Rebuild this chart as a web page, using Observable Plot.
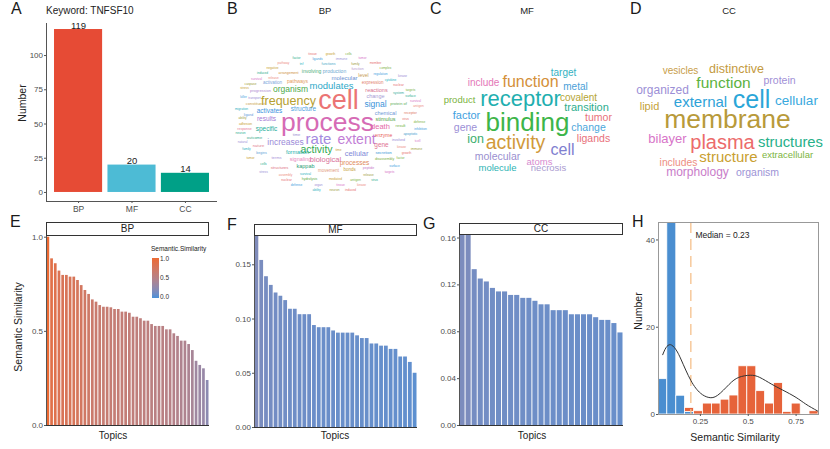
<!DOCTYPE html>
<html><head><meta charset="utf-8">
<script src="https://cdn.jsdelivr.net/npm/d3@7"></script>
<script src="https://cdn.jsdelivr.net/npm/@observablehq/plot@0.6"></script>
<style>
body{margin:0;background:#fff;}
#root{position:relative;width:830px;height:449px;overflow:hidden;font-family:"Liberation Sans",Arial,sans-serif;color:#222;background:#fff;}
.lbl{position:absolute;white-space:nowrap;line-height:1;}
.strip{position:absolute;box-sizing:border-box;border:1px solid #333;background:#fff;font-size:10px;display:flex;align-items:center;justify-content:center;line-height:1;}
</style></head><body><div id="root"></div>
<script>
// ---------------- DATA ----------------
const goCategories = ["BP", "MF", "CC"];
const goCounts = [119, 20, 14];
const goColors = ["#E64B35", "#4DBBD5", "#00A087"];
const aTicks = [0, 25, 50, 75, 100];

const bpSimilarity = [1.0, 0.885, 0.859, 0.82, 0.797, 0.797, 0.788, 0.788, 0.77, 0.743,
  0.717, 0.696, 0.667, 0.655, 0.637, 0.628, 0.628, 0.625, 0.616, 0.616,
  0.602, 0.602, 0.596, 0.575, 0.575, 0.567, 0.554, 0.554, 0.536, 0.526,
  0.526, 0.526, 0.508, 0.508, 0.487, 0.473, 0.448, 0.448, 0.43, 0.398,
  0.341, 0.319, 0.301, 0.239];
const mfSimilarity = [0.177, 0.154, 0.139, 0.131, 0.124, 0.121, 0.117, 0.109, 0.109, 0.104,
  0.104, 0.104, 0.094, 0.092, 0.092, 0.092, 0.089, 0.087, 0.087, 0.087,
  0.087, 0.0845, 0.082, 0.082, 0.077, 0.077, 0.075, 0.075, 0.072, 0.072,
  0.065, 0.065, 0.060, 0.050];
const ccSimilarity = [0.163, 0.163, 0.133, 0.125, 0.1225, 0.117, 0.114, 0.114, 0.111, 0.111,
  0.1085, 0.1085, 0.106, 0.103, 0.103, 0.098, 0.098, 0.098, 0.0945, 0.0945,
  0.0945, 0.0945, 0.092, 0.0897, 0.0897, 0.087, 0.079];
const eTicks = [0, 0.5, 1.0];
const fTicks = [0, 0.05, 0.10, 0.15];
const gTicks = [0, 0.04, 0.08, 0.12, 0.16];

// histogram (panel H)
const histEdges = [0.031, 0.077, 0.124, 0.170, 0.217, 0.263, 0.310, 0.356, 0.402, 0.449,
  0.495, 0.542, 0.588, 0.634, 0.681, 0.727, 0.774, 0.820, 0.867];
const histLow  = [8.1, 46, 4.3, 0.6, 0, 0, 0, 0, 0, 0, 0, 0, 0, 0, 0, 0, 0, 0];
const histHigh = [0, 0, 0, 0.9, 0.75, 2.5, 2.5, 3.4, 4.35, 11.05, 11.05, 5.35, 2.5, 7.2, 0.6, 2.5, 0, 0.75];
const densityX = [0.053, 0.07, 0.093, 0.12, 0.15, 0.20, 0.25, 0.294, 0.34, 0.40, 0.45, 0.51, 0.56, 0.62, 0.68, 0.75, 0.80, 0.862];
const densityY = [13.7, 15.3, 16.0, 15.0, 12.5, 7.8, 4.9, 3.9, 4.4, 6.9, 8.5, 9.0, 8.5, 7.0, 5.6, 3.9, 2.4, 0.8];
const medianPos = 0.20;
const medianText = "Median = 0.23";
const hXTicks = [0.25, 0.5, 0.75];
const hYTicks = [0, 20, 40];

// word clouds: [word, x, y, size, color]
const bpWords = [
  ["process", 327, 122, 26.5, "#D66BB5"], ["cell", 338, 100, 27, "#EB7474"],
  ["rate", 318, 139, 15, "#A58BE0"], ["extent", 356, 139, 14, "#C27ED6"],
  ["frequency", 288, 100, 12.5, "#B5A030"], ["modulates", 331, 85, 9.5, "#2EA8C8"],
  ["organism", 290, 89, 8.5, "#4DAA4D"], ["signal", 375, 104, 8.5, "#3A93DA"],
  ["activity", 316, 149, 10.5, "#2FA84F"], ["increases", 285, 142, 8.5, "#9B8AD8"],
  ["activates", 269, 110, 6.5, "#3D93E0"], ["structure", 303, 108, 6.5, "#4D9FE0"],
  ["results", 266, 118, 6.5, "#A47AD6"], ["specific", 266, 128, 6.5, "#26AE9A"],
  ["chemical", 385, 112.5, 5.5, "#6E98D6"], ["stimulus", 385, 118.5, 5.5, "#55A34B"],
  ["death", 380, 126, 7.5, "#E56BA8"], ["cellular", 356, 153, 7.5, "#8088D8"],
  ["biological", 325, 159, 7.5, "#D8709A"], ["processes", 354, 162, 6.5, "#E08A5C"],
  ["gene", 381, 144, 6.5, "#E07290"], ["enzyme", 383, 135, 5, "#E85A5A"],
  ["formation", 297, 152, 5.5, "#25AFAA"], ["signaling", 300, 159, 5.5, "#E887BE"],
  ["kappab", 305, 166, 5.5, "#1F9E76"], ["movement", 328, 170, 4.5, "#E29A7A"],
  ["bonds", 349, 169, 4.5, "#C7A040"], ["reactions", 376, 90, 5.5, "#D8708E"],
  ["change", 375, 96, 5.5, "#A79DD6"], ["expression", 372, 82, 4.5, "#E3836E"],
  ["molecular", 344, 78, 6, "#6E90D0"], ["level", 363, 74.5, 5, "#C79B50"],
  ["production", 334, 71, 5, "#6FA8D0"], ["involving", 311, 71, 5, "#4FAE7A"],
  ["pathways", 297, 81, 5, "#E39A5A"], ["activation", 272, 82, 4.5, "#7AA6DA"],
  ["progression", 260, 90, 4, "#B08AD0"], ["constituent", 255, 103, 4, "#C9A24A"],
  ["protein of", 398, 103, 4, "#5DAE5A"], ["time", 296, 134, 4, "#9A8FD0"],
  ["outcome", 254, 137, 4, "#3BAA8A"], ["secretion", 383, 152, 4, "#3896D6"],
  ["nature", 258, 145, 4, "#E07C8C"], ["begins", 261, 152, 3.5, "#5A9FD8"],
  ["terms", 276, 157, 4, "#A890D8"], ["structures", 279, 167, 4, "#E07080"],
  ["result", 400, 125, 4, "#6CB040"], ["apoptotic", 410, 133.5, 3.5, "#4AA0D0"],
  ["involved", 398, 139, 3.5, "#9A8CD6"], ["disassembly", 384, 158, 3.5, "#7CAE3C"],
  ["peptide", 368, 167, 3.5, "#C878C8"], ["system", 398, 92, 3.5, "#3BB0A0"],
  ["receptor", 410, 112.5, 3.5, "#E07A62"], ["ligand", 248, 114, 3.5, "#5F97DA"],
  ["response", 244, 128, 3.5, "#E77A92"], ["functions", 328, 63, 3.5, "#4CA8C8"],
  ["function", 357, 68.5, 3.5, "#B79ACF"], ["arrangement", 288, 72.5, 3.5, "#D0903C"],
  ["hydrolysis", 309, 178.5, 3.5, "#5FAA48"]
];
const bpFiller = [
  ["tissue", 312, 53], ["growth", 330, 53], ["cells", 348, 53],
  ["factor", 296, 57], ["ligands", 317, 58], ["immune", 341, 58], ["tumor", 362, 57],
  ["pathway", 283, 62], ["tnf", 301, 63], ["family", 355, 63], ["member", 375, 62],
  ["negative", 272, 67], ["complex", 385, 67], ["induced", 262, 72], ["regulation", 380, 73],
  ["kinase", 402, 75], ["survival", 256, 78], ["release", 273, 77], ["cytokine", 390, 79],
  ["caspase", 250, 83], ["nuclear", 398, 84], ["stress", 244, 87], ["targets", 410, 89],
  ["surface", 410, 95], ["killer", 243, 96], ["transport", 254, 97.5],
  ["survival", 415, 100], ["antigen", 418, 105], ["migration", 241, 108],
  ["ability", 242, 117.5], ["virus", 405, 118], ["adhesion", 245, 123], ["defense", 419, 121],
  ["neuron", 240, 132.5], ["inhibition", 420, 128], ["natural", 242, 141.5], ["tcell", 417, 140],
  ["kinase", 401, 146], ["family", 246, 148.5], ["immune", 416, 148], ["growth", 406, 152],
  ["tumor", 250, 157], ["factor", 400, 157], ["cells", 263, 163],
  ["surface", 394, 165], ["stress", 263, 171], ["targets", 389, 171], ["assembly", 285, 174],
  ["survival", 305, 173], ["release", 368, 174], ["nuclear", 286, 179], ["mediated", 335, 178.5],
  ["antigen", 355, 179], ["virus", 374, 179], ["defense", 296, 184], ["organ", 318, 184],
  ["tissue", 340, 184], ["kinase", 361, 184], ["ability", 316, 189], ["neuron", 334, 189],
  ["induced", 350, 189], ["time", 338, 149]
];
const fillerPalette = ["#E76F6F", "#C9A030", "#7CB342", "#2DAE8E", "#3EA0E0", "#9C8FD6", "#D774C8", "#ED8E82", "#28B0C0", "#A0A040"];

const mfWords = [
  ["binding", 527, 122, 26, "#3DB54A"], ["receptor", 520, 98, 22, "#1FAFB0"],
  ["activity", 515, 142, 19.5, "#D19A3A"], ["function", 530, 81, 16, "#D4903A"],
  ["cell", 562, 149, 16, "#7F7FD0"], ["target", 563, 72, 10, "#34B2C2"],
  ["include", 483, 82, 10, "#E477B8"], ["metal", 575, 86, 10, "#4AA0D8"],
  ["product", 459, 99, 9.5, "#7CB342"], ["covalent", 578, 97, 10, "#B5A535"],
  ["transition", 586, 107, 11, "#2DAE8E"], ["factor", 466, 115, 11, "#3EA0E0"],
  ["tumor", 598, 117, 10.5, "#E8727A"], ["gene", 465, 127, 10.5, "#9C8FD6"],
  ["change", 588, 127, 10.5, "#4CA7DB"], ["ion", 475, 138, 12.5, "#3DAE6E"],
  ["ligands", 593, 138, 10.5, "#E8707A"], ["molecular", 497, 156, 10.5, "#9A8FD0"],
  ["atoms", 539, 161, 9.5, "#D68ACF"], ["molecule", 497, 167, 9.5, "#2EB3B3"],
  ["necrosis", 548, 167, 9.5, "#A99AD0"]
];
const ccWords = [
  ["membrane", 727, 119, 26.5, "#B89A3A"], ["cell", 751, 99, 25, "#2AA6D8"],
  ["plasma", 722, 142, 20, "#EC6B6B"], ["external", 700, 102, 15, "#2EA2D8"],
  ["function", 723, 83, 15.5, "#5CB23E"], ["cellular", 796, 100, 13.5, "#39A9DE"],
  ["structures", 790, 142, 14.8, "#27B089"], ["structure", 728, 157, 15, "#C9A030"],
  ["bilayer", 667, 138, 13, "#D774C8"], ["organized", 662, 90, 12, "#9C8FD6"],
  ["lipid", 649, 106, 11, "#C5A23A"], ["vesicles", 680, 70, 10, "#C89E4A"],
  ["distinctive", 736, 68, 12.5, "#C49A40"], ["protein", 779, 80, 10.5, "#9F8FD6"],
  ["extracellular", 787, 154, 9.5, "#7DB541"], ["includes", 678, 162, 10.3, "#ED8E82"],
  ["morphology", 697, 172, 12, "#C97CC9"], ["organism", 757, 172, 10.5, "#9D93D6"]
];

// ---------------- HELPERS ----------------
const root = document.getElementById("root");
const FONT = "Liberation Sans, Arial, sans-serif";
const axisColor = "#4d4d4d";
function place(node, left, top) {
  node.style.position = "absolute";
  node.style.left = left + "px";
  node.style.top = top + "px";
  root.appendChild(node);
}
function label(text, x, y, {size = 10, anchor = "middle", rotate = 0, color = "#222"} = {}) {
  const d = document.createElement("div");
  d.className = "lbl";
  d.textContent = text;
  d.style.fontSize = size + "px";
  d.style.color = color;
  d.style.left = x + "px";
  d.style.top = y + "px";
  const tx = anchor === "middle" ? "-50%" : anchor === "end" ? "-100%" : "0";
  d.style.transform = `translate(${tx},-50%)` + (rotate ? ` rotate(${rotate}deg)` : "");
  root.appendChild(d);
}
function strip(text, left, top, w, h) {
  const d = document.createElement("div");
  d.className = "strip";
  d.textContent = text;
  Object.assign(d.style, {left: left + "px", top: top + "px", width: w + "px", height: h + "px"});
  root.appendChild(d);
}
const baseStyle = {fontFamily: FONT, background: "transparent", overflow: "visible"};

// ---------------- PANEL A ----------------
const aData = goCategories.map((c, i) => ({cat: c, pos: i + 1, n: goCounts[i], color: goColors[i]}));
place(Plot.plot({
  width: 230, height: 215, marginLeft: 46, marginRight: 13, marginTop: 23, marginBottom: 14,
  style: baseStyle,
  x: {domain: [0.4, 3.6]}, y: {domain: [-6.6, 123.4]},
  color: {type: "identity"},
  marks: [
    Plot.rect(aData, {x1: d => d.pos - 0.45, x2: d => d.pos + 0.45, y1: () => 0, y2: "n", fill: "color"}),
    Plot.text(aData, {x: "pos", y: "n", text: d => String(d.n), dy: -1, lineAnchor: "bottom", fontSize: 9.5, fill: "#222"}),
    Plot.ruleX([0.4], {stroke: "#555"}),
    Plot.ruleY([-6.6], {stroke: "#555"}),
    Plot.axisY({ticks: aTicks, tickSize: 2, tickPadding: 1.5, fontSize: 8, fill: axisColor, stroke: "#555", label: null}),
    Plot.axisX({ticks: [1, 2, 3], tickFormat: i => goCategories[i - 1], tickSize: 2, tickPadding: 2, fontSize: 8.5, fill: axisColor, stroke: "#555", label: null})
  ]
}), 0, 0);
label("Keyword: TNFSF10", 46, 11, {size: 10, anchor: "start"});
label("Number", 22, 103, {size: 10.5, rotate: -90});

// ---------------- WORD CLOUDS ----------------
function cloud(words, left, top, w, h) {
  return Plot.plot({
    width: w, height: h, margin: 0, style: baseStyle,
    x: {domain: [left, left + w], range: [0, w]},
    y: {domain: [top, top + h], range: [0, h]},
    color: {type: "identity"},
    axis: null,
    marks: [Plot.text(words, {x: d => d[1], y: d => d[2], text: d => d[0], fontSize: d => d[3], fill: d => d[4]})]
  });
}
const bpFillerWords = bpFiller.map((d, i) => [d[0], d[1], d[2], 3.2, fillerPalette[i % fillerPalette.length]]);
place(cloud(bpFillerWords.concat(bpWords), 225, 30, 210, 170), 225, 30);
place(cloud(mfWords, 430, 30, 200, 170), 430, 30);
place(cloud(ccWords, 628, 30, 202, 170), 628, 30);
label("BP", 325, 11, {size: 9.5});
label("MF", 527, 11, {size: 9.5});
label("CC", 729, 11, {size: 9.5});

// ---------------- SIMILARITY BARS (E,F,G) ----------------
const simColor = {type: "linear", domain: [0, 1], range: ["#4A91D8", "#EC6A33"], interpolate: "lab"};
function simPlot(values, ticks, fmt, yMax, dims) {
  const rows = values.map((v, i) => ({i, v}));
  return Plot.plot({
    width: dims.w, height: 234, marginLeft: dims.l, marginRight: dims.r, marginTop: dims.t, marginBottom: dims.b,
    style: baseStyle,
    x: {domain: [0, values.length]}, y: {domain: [0, yMax]},
    color: simColor,
    marks: [
      Plot.rect(rows, {x1: "i", x2: d => d.i + 1, y1: () => 0, y2: "v", fill: "v", insetLeft: 0.5, insetRight: 0.5, clip: true}),
      Plot.ruleX([0], {stroke: "#555"}),
      Plot.ruleY([0], {stroke: "#333"}),
      Plot.axisY({ticks, tickFormat: d3.format(fmt), tickSize: 2, tickPadding: 1.5, fontSize: 8, fill: axisColor, stroke: "#555", label: null}),
      Plot.axisX({ticks: [], label: null})
    ]
  });
}
place(simPlot(bpSimilarity, eTicks, ".1f", 1.009, {w: 220, l: 46, r: 11, t: 20, b: 24}), 0, 215);
place(simPlot(mfSimilarity, fTicks, ".2f", 0.177, {w: 205, l: 34, r: 8, t: 20, b: 22}), 220, 215);
place(simPlot(ccSimilarity, gTicks, ".2f", 0.163, {w: 205, l: 34, r: 7, t: 19, b: 24}), 425, 215);
strip("BP", 46, 222, 163, 13.5);
strip("MF", 254, 224, 163, 11.5);
strip("CC", 459, 222.5, 164, 12);
label("Semantic Similarity", 18, 327, {size: 10.5, rotate: -90});
label("Topics", 113, 436, {size: 10});
label("Topics", 335, 436, {size: 10});
label("Topics", 532, 436, {size: 10});

// legend for E (colour ramp from the same scale: 1.0 at top, 0.0 at bottom)
(() => {
  const interp = d3.interpolateLab(simColor.range[0], simColor.range[1]);
  const stops = d3.range(0, 1.0001, 0.1).map(t => `${interp(t)} ${(t * 100).toFixed(0)}%`);
  const bar = document.createElement("div");
  Object.assign(bar.style, {position: "absolute", left: "152px", top: "258px", width: "6.5px", height: "40px",
    background: `linear-gradient(to top, ${stops.join(",")})`});
  root.appendChild(bar);
  label("Semantic.Similarity", 151, 249, {size: 6.5, anchor: "start"});
  label("1.0", 160, 259, {size: 6.5, anchor: "start", color: "#333"});
  label("0.5", 160, 278, {size: 6.5, anchor: "start", color: "#333"});
  label("0.0", 160, 297, {size: 6.5, anchor: "start", color: "#333"});
})();

// ---------------- PANEL H ----------------
const hRects = [];
histLow.forEach((v, i) => { if (v > 0) hRects.push({x1: histEdges[i], x2: histEdges[i + 1], y1: 0, y2: v, fill: "#4A8ED0"}); });
histHigh.forEach((v, i) => { if (v > 0) hRects.push({x1: histEdges[i], x2: histEdges[i + 1], y1: histLow[i], y2: histLow[i] + v, fill: "#E6633A"}); });
const dens = densityX.map((x, i) => ({x, y: densityY[i]}));
place(Plot.plot({
  width: 205, height: 234, marginLeft: 33, marginRight: 12, marginTop: 7, marginBottom: 35,
  style: baseStyle,
  x: {domain: [histEdges[0], histEdges[histEdges.length - 1]]}, y: {domain: [0, 44]},
  color: {type: "identity"},
  marks: [
    Plot.rect(hRects, {x1: "x1", x2: "x2", y1: "y1", y2: "y2", fill: "fill", stroke: "white", strokeWidth: 0.8, clip: true}),
    Plot.ruleX([medianPos], {stroke: "#F5C08C", strokeWidth: 1.3, strokeDasharray: "11,6"}),
    Plot.line(dens, {x: "x", y: "y", curve: "natural", stroke: "#333", strokeWidth: 1}),
    Plot.text([medianText], {x: 0.224, y: 41, text: d => d, textAnchor: "start", fontSize: 8.5, fill: "#222"}),
    Plot.frame({stroke: "#999"}),
    Plot.axisX({ticks: hXTicks, tickFormat: d => String(d), tickSize: 2, tickPadding: 2, fontSize: 8, fill: axisColor, stroke: "#555", label: null}),
    Plot.axisY({ticks: hYTicks, tickSize: 2, tickPadding: 1.5, fontSize: 8, fill: axisColor, stroke: "#555", label: null})
  ]
}), 625, 215);
label("Number", 638, 311, {size: 10.5, rotate: -90});
label("Semantic Similarity", 735, 437, {size: 10.5});

// ---------------- PANEL LETTERS ----------------
[["A", 11, 9], ["B", 227, 9], ["C", 430, 9], ["D", 630, 9],
 ["E", 10, 222], ["F", 227, 225], ["G", 423, 224], ["H", 632, 222]]
  .forEach(([t, x, y]) => label(t, x, y, {size: 16, anchor: "start", color: "#1a1a1a"}));
</script>
</body></html>
